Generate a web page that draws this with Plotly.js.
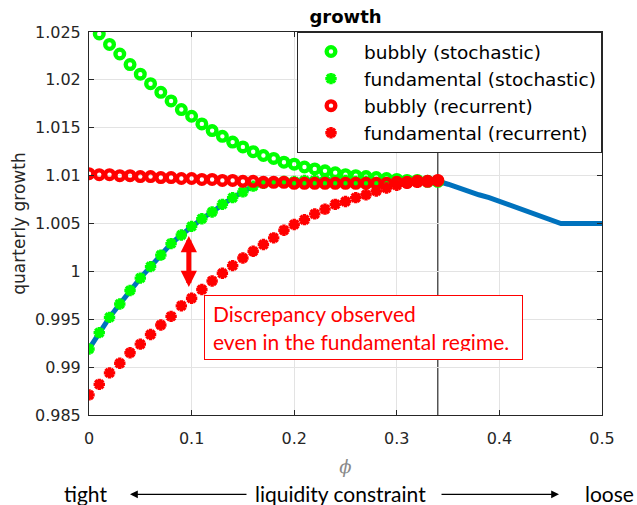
<!DOCTYPE html>
<html>
<head>
<meta charset="utf-8">
<script src="https://cdn.plot.ly/plotly-3.0.1.min.js"></script>
<style>
  html, body { margin: 0; padding: 0; background: #fff; }
  #chart { width: 637px; height: 505px; }
</style>
</head>
<body>
<div id="chart"></div>
<script>
// liquidity parameter grid where the bubbly / fundamental equilibria were solved
const phi = [0.00, 0.01, 0.02, 0.03, 0.04, 0.05, 0.06, 0.07, 0.08, 0.09,
             0.10, 0.11, 0.12, 0.13, 0.14, 0.15, 0.16, 0.17, 0.18, 0.19,
             0.20, 0.21, 0.22, 0.23, 0.24, 0.25, 0.26, 0.27, 0.28, 0.29,
             0.30, 0.31, 0.32, 0.33, 0.34];

// bubbly equilibrium (stochastic) is defined from phi = 0.01 on
const phiBubblyStoch = phi.slice(1);
const bubblyStoch = [1.0248, 1.0237, 1.0227, 1.0216, 1.0206, 1.0196, 1.0187, 1.0178, 1.0169,
                     1.0162, 1.0154, 1.0147, 1.0141, 1.0135, 1.0130, 1.0125, 1.0121, 1.0118, 1.0114,
                     1.0112, 1.0109, 1.0107, 1.0105, 1.0103, 1.0101, 1.0100, 1.0099, 1.0098, 1.0097,
                     1.0096, 1.0095, 1.0095, 1.0094, 1.0094];

const fundStoch = [0.9919, 0.9936, 0.9952, 0.9966, 0.9980, 0.9993, 1.0005, 1.0017, 1.0029, 1.0038,
                   1.0047, 1.0055, 1.0062, 1.0070, 1.0077, 1.0083, 1.0089, 1.0092, 1.0093, 1.0094,
                   1.0094, 1.0095, 1.0095, 1.0095, 1.0095, 1.0095, 1.0094, 1.0094, 1.0093, 1.0093,
                   1.0093, 1.0093, 1.0094, 1.0094, 1.0094];

const bubblyRec = [1.0102, 1.0101, 1.0101, 1.0100, 1.0100, 1.0099, 1.0099, 1.0098, 1.0098, 1.0097,
                   1.0097, 1.0096, 1.0096, 1.0095, 1.0095, 1.0094, 1.0094, 1.0093, 1.0093, 1.0093,
                   1.0092, 1.0092, 1.0092, 1.0092, 1.0092, 1.0092, 1.0092, 1.0092, 1.0092, 1.0092,
                   1.0093, 1.0093, 1.0094, 1.0094, 1.0095];

const fundRec = [0.9871, 0.9882, 0.9894, 0.9904, 0.9915, 0.9924, 0.9934, 0.9944, 0.9953, 0.9964,
                 0.9972, 0.9981, 0.9990, 0.9998, 1.0006, 1.0014, 1.0021, 1.0028, 1.0035, 1.0043,
                 1.0049, 1.0054, 1.0060, 1.0065, 1.0070, 1.0073, 1.0077, 1.0080, 1.0084, 1.0087,
                 1.0090, 1.0092, 1.0093, 1.0094, 1.0095];

// model growth path beyond the threshold (continues the stochastic fundamental path)
const phiTail = [0.35, 0.36, 0.37, 0.38, 0.39, 0.40, 0.41, 0.42, 0.43, 0.44,
                 0.45, 0.46, 0.47, 0.48, 0.49, 0.50];
const growthTail = [1.0091, 1.0087, 1.0084, 1.0080, 1.0077, 1.0073, 1.0069, 1.0065, 1.0061, 1.0058,
                    1.0054, 1.0050, 1.0050, 1.0050, 1.0050, 1.0050];

// threshold where the bubbly regime ends
const phiStar = 0.34;

// discrepancy marker between the two fundamental paths
const gapPhi = 0.0973;
const gapTop = 1.0037;
const gapBottom = 0.9982;

const xTicks = [0, 0.1, 0.2, 0.3, 0.4, 0.5];
const xTickLabels = ['0', '0.1', '0.2', '0.3', '0.4', '0.5'];
const yTicks = [0.985, 0.99, 0.995, 1, 1.005, 1.01, 1.015, 1.02, 1.025];
const yTickLabels = ['0.985', '0.99', '0.995', '1', '1.005', '1.01', '1.015', '1.02', '1.025'];

const GREEN = '#00ff00';
const RED = '#ff0000';
const BLUE = '#0072bd';
const AX = '#262626';

const circleMarker = c => ({ symbol: 'circle-open', size: 8.7, color: c, line: { width: 4.3, color: c } });
const starMarker = c => ({ symbol: 'asterisk-open', size: 9.5, color: c, line: { width: 3.4, color: c } });

const traces = [
  {
    x: phi.concat(phiTail), y: fundStoch.concat(growthTail),
    mode: 'lines', line: { color: BLUE, width: 5 }, showlegend: false, hoverinfo: 'skip'
  },
  { x: phiBubblyStoch, y: bubblyStoch, mode: 'markers', name: 'bubbly (stochastic)', marker: circleMarker(GREEN) },
  { x: phi, y: fundStoch, mode: 'markers', name: 'fundamental (stochastic)', marker: starMarker(GREEN) },
  { x: phi, y: bubblyRec, mode: 'markers', name: 'bubbly (recurrent)', marker: circleMarker(RED) },
  { x: phi, y: fundRec, mode: 'markers', name: 'fundamental (recurrent)', marker: starMarker(RED) }
];

const tickFont = { family: 'DejaVu Sans', size: 16, color: AX };
const noteFont = { family: 'Lato', size: 21, color: '#000' };

// bottom strip below the axis, in paper units
const stripY = -0.2037;
const arrowY = -0.207;

const layout = {
  width: 637, height: 505,
  margin: { l: 89, r: 35, t: 32, b: 90, pad: 0 },
  paper_bgcolor: '#fff', plot_bgcolor: '#fff',
  title: {
    text: '<b>growth</b>',
    font: { family: 'DejaVu Sans', size: 18, color: '#000' },
    x: 0.5, xref: 'paper', xanchor: 'center',
    y: 1 - 17 / 505, yref: 'container', yanchor: 'middle'
  },
  xaxis: {
    range: [0, 0.5], tickvals: xTicks, ticktext: xTickLabels,
    showgrid: true, gridcolor: '#e3e3e3', zeroline: false,
    ticks: 'inside', ticklen: 5, tickcolor: AX,
    showline: true, linecolor: AX, linewidth: 1, mirror: 'ticks',
    tickfont: tickFont, ticklabelstandoff: 9,
    title: { text: '<i>ϕ</i>', font: { family: 'DejaVu Serif', size: 18, color: '#8a8a8a' }, standoff: 13 }
  },
  yaxis: {
    range: [0.985, 1.025], tickvals: yTicks, ticktext: yTickLabels,
    showgrid: true, gridcolor: '#e3e3e3', zeroline: false,
    ticks: 'inside', ticklen: 5, tickcolor: AX,
    showline: true, linecolor: AX, linewidth: 1, mirror: 'ticks',
    tickfont: tickFont, ticklabelstandoff: 4,
    title: { text: 'quarterly growth', font: { family: 'DejaVu Sans', size: 17, color: AX }, standoff: 5 }
  },
  legend: {
    x: 1, xanchor: 'right', y: 1, yanchor: 'top',
    bgcolor: '#fff', bordercolor: AX, borderwidth: 1,
    font: { family: 'DejaVu Sans', size: 18.5, color: '#000' },
    itemwidth: 56, tracegroupgap: 0
  },
  shapes: [
    { type: 'line', xref: 'x', yref: 'paper', x0: phiStar, x1: phiStar, y0: 0, y1: 1,
      line: { color: '#000', width: 1 }, layer: 'below' }
  ],
  annotations: [
    {
      xref: 'x', yref: 'y', x: gapPhi, y: gapTop,
      axref: 'x', ayref: 'y', ax: gapPhi, ay: gapBottom,
      text: '', showarrow: true, arrowside: 'end+start',
      arrowhead: 2, arrowsize: 0.65, arrowwidth: 5, arrowcolor: RED
    },
    {
      xref: 'x', yref: 'y', x: 0.112, y: 0.9975, xanchor: 'left', yanchor: 'top',
      text: 'Discrepancy observed<br>even in the fundamental regime.',
      showarrow: false, align: 'left', valign: 'middle',
      width: 301, height: 47, borderpad: 8,
      bordercolor: RED, borderwidth: 1, bgcolor: '#fff',
      font: { family: 'Lato', size: 21, color: RED }
    },
    { xref: 'paper', yref: 'paper', x: -0.006, y: stripY, xanchor: 'center', yanchor: 'middle',
      text: 'tight', showarrow: false, font: noteFont },
    { xref: 'paper', yref: 'paper', x: 0.4912, y: stripY, xanchor: 'center', yanchor: 'middle',
      text: 'liquidity constraint', showarrow: false, font: noteFont },
    { xref: 'paper', yref: 'paper', x: 1.0146, y: stripY, xanchor: 'center', yanchor: 'middle',
      text: 'loose', showarrow: false, font: noteFont },
    {
      xref: 'paper', yref: 'paper', x: 0.0799, y: arrowY, ax: 118, ay: 0,
      text: '', showarrow: true, arrowhead: 2, arrowsize: 1.2, arrowwidth: 1.3, arrowcolor: '#000'
    },
    {
      xref: 'paper', yref: 'paper', x: 0.9162, y: arrowY, ax: -119, ay: 0,
      text: '', showarrow: true, arrowhead: 2, arrowsize: 1.2, arrowwidth: 1.3, arrowcolor: '#000'
    }
  ]
};

Plotly.newPlot('chart', traces, layout, { displayModeBar: false, staticPlot: true });
</script>
</body>
</html>
